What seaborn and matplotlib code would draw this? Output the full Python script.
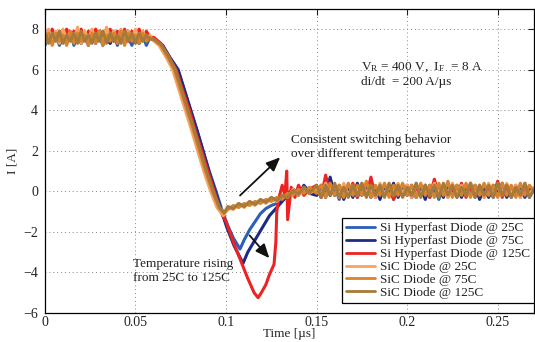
import numpy as np
import pandas as pd
import matplotlib
matplotlib.use("Agg")
import matplotlib.pyplot as plt
import seaborn as sns
from matplotlib.lines import Line2D

# ---------------- data ----------------
series_names = ["Si Hyperfast Diode @ 25C", "Si Hyperfast Diode @ 75C",
                "Si Hyperfast Diode @ 125C", "SiC Diode @ 25C",
                "SiC Diode @ 75C", "SiC Diode @ 125C"]

# plateau before turn-off, sampled every 2 ns from t = 0
si25_pre = [7.2, 7.7, 7.3, 7.8, 7.2, 7.6, 7.4, 7.8, 7.2, 7.7,
            7.3, 7.6, 7.2, 7.8, 7.4, 7.7, 7.2, 7.6, 7.3, 7.8,
            7.2, 7.7, 7.4, 7.6, 7.2, 7.8, 7.3, 7.7, 7.2, 7.6]
si75_pre = [7.4, 7.9, 7.3, 7.8, 7.5, 7.9, 7.3, 7.7, 7.4, 7.9,
            7.3, 7.8, 7.5, 7.8, 7.3, 7.9, 7.4, 7.7, 7.3, 7.9,
            7.5, 7.8, 7.3, 7.9, 7.4, 7.8, 7.3, 7.7, 7.5, 7.6]
si125_pre = [7.9, 7.4, 8.0, 7.5, 7.9, 7.4, 8.0, 7.6, 7.9, 7.4,
             8.0, 7.5, 7.9, 7.4, 8.0, 7.6, 7.9, 7.5, 8.0, 7.4,
             7.9, 7.5, 8.0, 7.4, 7.9, 7.6, 8.0, 7.5, 7.9, 7.6]
sic25_pre = [7.5, 8.0, 7.4, 7.9, 7.3, 8.0, 7.5, 7.9, 7.4, 8.1,
             7.3, 7.9, 7.5, 8.0, 7.4, 7.9, 7.3, 8.1, 7.5, 7.9,
             7.4, 8.0, 7.3, 7.9, 7.5, 8.0, 7.4, 7.9, 7.5, 7.7]
sic75_pre = [7.3, 7.8, 7.2, 7.8, 7.4, 7.7, 7.2, 7.9, 7.3, 7.8,
             7.4, 7.7, 7.2, 7.8, 7.3, 7.9, 7.2, 7.7, 7.4, 7.8,
             7.3, 7.9, 7.2, 7.8, 7.4, 7.7, 7.3, 7.8, 7.4, 7.6]
sic125_pre = [7.8, 7.3, 7.8, 7.4, 7.9, 7.3, 7.7, 7.4, 7.8, 7.3,
              7.9, 7.4, 7.7, 7.3, 7.8, 7.4, 7.9, 7.3, 7.8, 7.4,
              7.7, 7.3, 7.9, 7.4, 7.8, 7.3, 7.8, 7.4, 7.7, 7.5]

# turn-off transient (time in us, current in A)
si25_tt = [0.060, 0.065, 0.069, 0.0735, 0.077, 0.0805, 0.084, 0.0873, 0.0907, 0.0945, 0.098, 0.101,
           0.104, 0.1077, 0.110, 0.113, 0.116, 0.119, 0.122, 0.125, 0.128, 0.131, 0.134, 0.137,
           0.140, 0.144, 0.147]
si25_ti = [7.5, 7.2, 6.6, 6.0, 5.0, 4.0, 3.0, 2.0, 1.0, 0.0, -1.0, -1.7,
           -2.3, -2.85, -2.4, -1.9, -1.5, -1.1, -0.85, -0.7, -0.6, -0.35, -0.1, 0.1,
           -0.1, 0.2, -0.1]
si75_tt = [0.060, 0.065, 0.069, 0.0735, 0.077, 0.0805, 0.084, 0.0873, 0.0905, 0.094, 0.0975, 0.1005,
           0.1045, 0.1094, 0.112, 0.116, 0.120, 0.124, 0.128, 0.131, 0.134, 0.137, 0.140, 0.143, 0.146]
si75_ti = [7.5, 7.2, 6.6, 6.0, 5.0, 4.0, 3.0, 2.0, 1.0, 0.0, -1.0, -1.8,
           -2.7, -3.55, -3.0, -2.4, -1.8, -1.2, -0.8, -0.5, -0.2, 0.1, -0.2, 0.3, -0.1]
si125_tt = [0.060, 0.064, 0.068, 0.0725, 0.076, 0.0798, 0.083, 0.0865, 0.090, 0.0935, 0.097, 0.100,
            0.104, 0.108, 0.112, 0.1155, 0.1177, 0.1195, 0.122, 0.124, 0.1265, 0.1275, 0.128, 0.129,
            0.131, 0.1325, 0.1335, 0.134, 0.136, 0.138, 0.140, 0.143, 0.146]
si125_ti = [7.6, 7.3, 6.7, 6.0, 5.0, 4.0, 3.0, 2.0, 1.0, 0.0, -1.0, -1.5,
            -2.5, -3.4, -4.3, -5.0, -5.25, -5.0, -4.6, -4.1, -3.6, -2.5, -1.0, -0.4,
            0.3, -0.2, 1.0, -1.4, 0.2, -0.3, 0.3, -0.2, 0.1]
sic25_tt = [0.059, 0.063, 0.067, 0.0705, 0.074, 0.0775, 0.081, 0.0843, 0.0877, 0.0915, 0.095, 0.0985,
            0.101, 0.104, 0.107, 0.110, 0.113, 0.116, 0.119, 0.122, 0.125, 0.128, 0.131, 0.134,
            0.137, 0.140, 0.143, 0.146]
sic25_ti = [7.5, 7.2, 6.6, 6.0, 5.0, 4.0, 3.0, 2.0, 1.0, 0.0, -0.8, -1.2,
            -0.8, -0.9, -0.6, -0.8, -0.5, -0.7, -0.4, -0.6, -0.3, -0.5, -0.2, -0.3,
            0.1, -0.2, 0.2, -0.1]
sic75_tt = [0.060, 0.064, 0.068, 0.0715, 0.075, 0.0785, 0.082, 0.0853, 0.0887, 0.0925, 0.096, 0.0988,
            0.101, 0.104, 0.107, 0.110, 0.113, 0.116, 0.119, 0.122, 0.125, 0.128, 0.131, 0.134,
            0.137, 0.140, 0.143, 0.146]
sic75_ti = [7.5, 7.2, 6.6, 6.0, 5.0, 4.0, 3.0, 2.0, 1.0, 0.0, -0.8, -1.1,
            -0.9, -0.7, -0.8, -0.6, -0.7, -0.5, -0.6, -0.4, -0.5, -0.3, -0.4, -0.1,
            -0.2, 0.1, -0.1, 0.2]
sic125_tt = [0.060, 0.064, 0.068, 0.072, 0.0755, 0.079, 0.0825, 0.0858, 0.0892, 0.093, 0.0965, 0.099,
             0.101, 0.104, 0.107, 0.110, 0.113, 0.116, 0.119, 0.122, 0.125, 0.128, 0.131, 0.134,
             0.137, 0.140, 0.143, 0.146]
sic125_ti = [7.5, 7.25, 6.7, 6.0, 5.0, 4.0, 3.0, 2.0, 1.0, 0.0, -0.8, -1.05,
             -0.75, -0.85, -0.6, -0.75, -0.5, -0.65, -0.4, -0.55, -0.3, -0.45, -0.2, -0.3,
             0.05, -0.15, 0.2, -0.1]

# settled values after recovery, sampled every 2.5 ns from t = 0.15 us to 0.27 us
si25_post = [0.2, -0.3, 0.3, -0.2, 0.2, -0.4, 0.3, -0.1, 0.2, -0.3,
             0.3, -0.2, 0.4, -0.3, 0.2, -0.2, 0.3, -0.4, 0.2, -0.1,
             0.3, -0.3, 0.2, -0.2, 0.3, -0.3, 0.2, -0.4, 0.3, -0.2,
             0.2, -0.3, 0.3, -0.2, 0.4, -0.3, 0.2, -0.1, 0.3, -0.3,
             0.2, -0.2, 0.3, -0.3, 0.2, -0.2, 0.3, -0.3, 0.1]
si75_post = [-0.2, 0.3, -0.3, 0.7, -0.2, 0.3, -0.4, 0.2, -0.3, 0.4,
             -0.2, 0.3, -0.3, 0.2, -0.4, 0.3, -0.2, 0.4, -0.3, 0.2,
             -0.2, 0.3, -0.3, 0.2, -0.4, 0.3, -0.2, 0.2, -0.3, 0.4,
             -0.2, 0.3, -0.3, 0.2, -0.2, 0.3, -0.4, 0.2, -0.3, 0.3,
             -0.2, 0.4, -0.3, 0.2, -0.2, 0.3, -0.3, 0.2, 0.0]
si125_post = [0.3, -0.3, 0.8, -0.2, 0.3, -0.3, 0.2, -0.2, 0.4, -0.3,
              0.3, -0.2, 0.7, -0.3, 0.2, -0.2, 0.3, -0.4, 0.2, -0.2,
              0.3, -0.3, 0.2, -0.2, 0.3, -0.3, 0.6, -0.2, 0.3, -0.3,
              0.2, -0.2, 0.4, -0.3, 0.2, -0.2, 0.3, -0.3, 0.2, -0.2,
              0.5, -0.3, 0.2, -0.2, 0.3, -0.3, 0.2, -0.2, 0.1]
sic25_post = [0.1, -0.2, 0.4, -0.1, 0.3, -0.3, 0.4, -0.2, 0.3, -0.2,
              0.4, -0.1, 0.3, -0.3, 0.4, -0.2, 0.3, -0.2, 0.4, -0.1,
              0.3, -0.3, 0.4, -0.2, 0.3, -0.2, 0.4, -0.1, 0.3, -0.3,
              0.4, -0.2, 0.3, -0.2, 0.4, -0.1, 0.3, -0.3, 0.4, -0.2,
              0.3, -0.2, 0.4, -0.1, 0.3, -0.3, 0.4, -0.2, 0.2]
sic75_post = [-0.1, 0.3, -0.3, 0.4, -0.2, 0.3, -0.3, 0.4, -0.2, 0.3,
              -0.2, 0.5, -0.3, 0.3, -0.2, 0.4, -0.3, 0.3, -0.2, 0.4,
              -0.2, 0.3, -0.3, 0.4, -0.2, 0.3, -0.3, 0.4, -0.2, 0.5,
              -0.3, 0.3, -0.2, 0.4, -0.3, 0.3, -0.2, 0.4, -0.2, 0.3,
              -0.3, 0.4, -0.2, 0.3, -0.3, 0.4, -0.2, 0.3, 0.0]
sic125_post = [0.3, -0.3, 0.3, -0.2, 0.4, -0.3, 0.2, -0.3, 0.3, -0.2,
               0.4, -0.3, 0.3, -0.2, 0.3, -0.3, 0.4, -0.2, 0.3, -0.3,
               0.2, -0.2, 0.4, -0.3, 0.3, -0.2, 0.3, -0.3, 0.4, -0.2,
               0.3, -0.3, 0.2, -0.2, 0.4, -0.3, 0.3, -0.2, 0.3, -0.3,
               0.4, -0.2, 0.3, -0.3, 0.2, -0.2, 0.4, -0.3, 0.1]

pre_step = 0.002
post_start, post_end = 0.15, 0.27

x_ticks = [0, 0.05, 0.1, 0.15, 0.2, 0.25]
x_tick_labels = ["0", "0.05", "0.1", "0.15", "0.2", "0.25"]
y_ticks = [-6, -4, -2, 0, 2, 4, 6, 8]
y_tick_labels = ["\u22126", "\u22124", "\u22122", "0", "2", "4", "6", "8"]

colors = ["#2b5fb8", "#1c2c86", "#ee2222", "#f7a463", "#d9832c", "#a67a3a"]

# ---------------- build long table ----------------
parts = [
    (si25_pre, si25_tt, si25_ti, si25_post),
    (si75_pre, si75_tt, si75_ti, si75_post),
    (si125_pre, si125_tt, si125_ti, si125_post),
    (sic25_pre, sic25_tt, sic25_ti, sic25_post),
    (sic75_pre, sic75_tt, sic75_ti, sic75_post),
    (sic125_pre, sic125_tt, sic125_ti, sic125_post),
]
frames = []
for name, (pre, tt, ti, post) in zip(series_names, parts):
    t_pre = [round(pre_step * i, 4) for i in range(len(pre))]
    t_post = list(np.linspace(post_start, post_end, len(post)))
    ts = t_pre + list(tt) + t_post
    ys = list(pre) + list(ti) + list(post)
    frames.append(pd.DataFrame({"t": ts, "I": ys, "series": name}))
df = pd.concat(frames, ignore_index=True)

# ---------------- plot ----------------
sns.set_theme(style="white")
plt.rcParams["font.family"] = ["Liberation Serif", "DejaVu Serif"]
plt.rcParams["mathtext.fontset"] = "custom"
plt.rcParams["mathtext.rm"] = "Liberation Serif"
plt.rcParams["mathtext.it"] = "Liberation Serif:italic"

fig = plt.figure(figsize=(5.35, 3.42), dpi=100)
ax = fig.add_axes([0.084, 0.085, 0.914, 0.889])

sns.lineplot(data=df, x="t", y="I", hue="series", hue_order=series_names,
             palette=colors, sort=False, estimator=None, units="series",
             linewidth=2.2, ax=ax, legend=False)

ax.set_xlim(0, 0.27)
ax.set_ylim(-6, 9)
ax.set_xticks(x_ticks)
ax.set_xticklabels(x_tick_labels)
ax.set_yticks(y_ticks)
ax.set_yticklabels(y_tick_labels)
ax.tick_params(direction="in", length=4, width=0.8, top=True, right=True,
               labelsize=10, colors="#222222")
ax.tick_params(axis="x", pad=2.5)
ax.tick_params(axis="y", pad=5)
ax.grid(True, linestyle=(0, (1, 3)), color="#888888", linewidth=0.7)
for s in ax.spines.values():
    s.set_color("black")
    s.set_linewidth(0.9)
ax.set_xlabel("Time [\u00b5s]", fontsize=9.5, labelpad=-1)
ax.set_ylabel("I [A]", fontsize=9.5, labelpad=3)

# annotations
ax.text(0.1745, 6.12, "V$_\\mathregular{R}$ = 400 V,  I$_\\mathregular{F}$  = 8 A",
        fontsize=9.5, color="#222222", va="center")
ax.text(0.1745, 5.4, "di/dt  = 200 A/\u00b5s", fontsize=9.5, color="#222222", va="center")
ax.text(0.136, 2.85, "Consistent switching behavior\nover different temperatures",
        fontsize=9.5, color="#222222", va="top", linespacing=1.3)
ax.text(0.0486, -3.28, "Temperature rising\nfrom 25C to 125C",
        fontsize=9.5, color="#222222", va="top", linespacing=1.3)

ax.annotate("", xy=(0.131, 1.77), xytext=(0.1066, -0.3),
            arrowprops=dict(arrowstyle="-|>,head_length=0.7,head_width=0.3",
                            color="#111111", lw=1.3))
ax.annotate("", xy=(0.1249, -3.4), xytext=(0.112, -2.07),
            arrowprops=dict(arrowstyle="-|>,head_length=0.7,head_width=0.3",
                            color="#111111", lw=1.3))

# legend
handles = [Line2D([0], [0], color=c, lw=2.0) for c in colors]
leg = ax.legend(handles, series_names, loc="lower right",
                bbox_to_anchor=(1.0, 0.033), fontsize=9.5, frameon=True,
                fancybox=False, edgecolor="black", framealpha=1,
                labelspacing=0.05, handlelength=2.2, handletextpad=0.4,
                borderpad=0.3, borderaxespad=0.0)
leg.get_frame().set_linewidth(0.9)
for t in leg.get_texts():
    t.set_color("#222222")

fig.savefig("out.png", dpi=100)
